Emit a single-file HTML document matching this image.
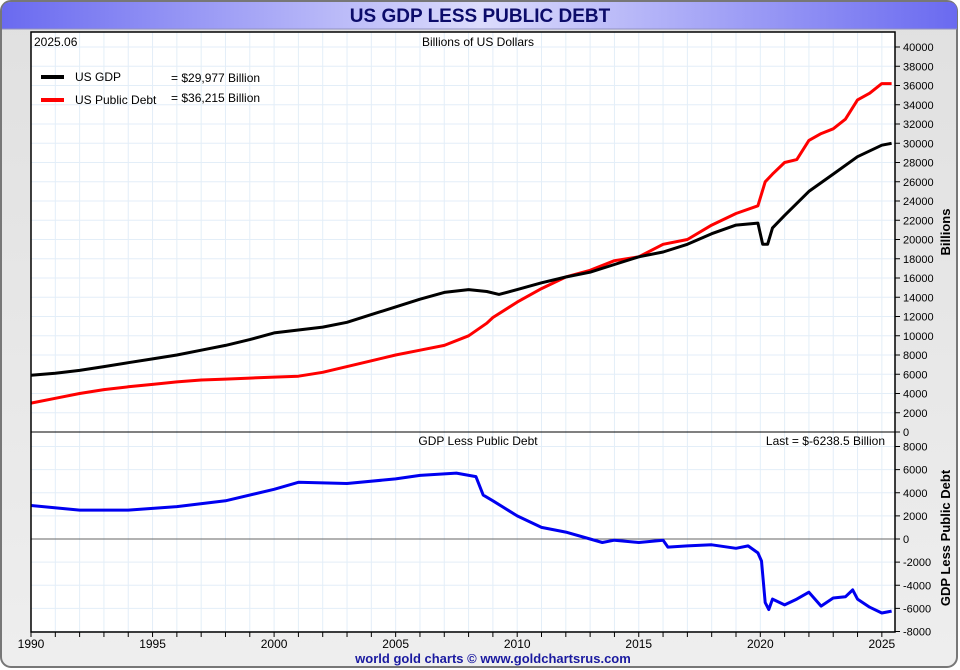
<!DOCTYPE html>
<html><head><meta charset="utf-8">
<style>
html,body{margin:0;padding:0;width:960px;height:670px;overflow:hidden;background:#fff;}
text{font-family:"Liberation Sans",sans-serif;}
</style></head>
<body>
<svg id="chart" width="960" height="670" xmlns="http://www.w3.org/2000/svg">
<defs>
<linearGradient id="hdr" x1="0" x2="1" y1="0" y2="0">
<stop offset="0" stop-color="#6a6af0"/><stop offset="0.5" stop-color="#dcdcfc"/><stop offset="1" stop-color="#6a6af0"/>
</linearGradient>
<linearGradient id="bg" x1="0" x2="0" y1="0" y2="1">
<stop offset="0" stop-color="#e0e0e0"/><stop offset="1" stop-color="#eeeeee"/>
</linearGradient>
</defs>
<rect x="1" y="1" width="956" height="666" rx="10" fill="url(#bg)" stroke="#777" stroke-width="2"/>
<path d="M2,29 L2,11 Q2,2 11,2 L948,2 Q957,2 957,11 L957,29 Z" fill="url(#hdr)"/>
<line x1="2" y1="29" x2="957" y2="29" stroke="#9090c0"/>
<text x="480" y="22" text-anchor="middle" font-size="19" font-weight="bold" fill="#0c0c6a">US GDP LESS PUBLIC DEBT</text>
<rect x="31" y="32" width="864" height="600" fill="#fff"/>
<g id="grid"></g>
<g id="series"></g>
<line x1="31" y1="432" x2="895" y2="432" stroke="#000" stroke-width="1"/>
<rect x="31" y="32" width="864" height="600" fill="none" stroke="#000" stroke-width="1.5"/>
<g id="axes"></g>
<text x="34" y="46" font-size="12">2025.06</text>
<text x="478" y="46" text-anchor="middle" font-size="12">Billions of US Dollars</text>
<line x1="41" y1="77" x2="64" y2="77" stroke="#000" stroke-width="4"/>
<text x="75" y="81" font-size="12">US GDP</text>
<text x="171" y="82" font-size="12">= $29,977 Billion</text>
<line x1="41" y1="100" x2="64" y2="100" stroke="#f00" stroke-width="4"/>
<text x="75" y="104" font-size="12">US Public Debt</text>
<text x="171" y="102" font-size="12">= $36,215 Billion</text>
<text x="478" y="445" text-anchor="middle" font-size="12">GDP Less Public Debt</text>
<text x="885" y="445" text-anchor="end" font-size="12">Last = $-6238.5 Billion</text>
<text transform="translate(950,232) rotate(-90)" text-anchor="middle" font-size="13" font-weight="bold">Billions</text>
<text transform="translate(950,538) rotate(-90)" text-anchor="middle" font-size="13" font-weight="bold">GDP Less Public Debt</text>
<text x="493" y="663" text-anchor="middle" font-size="13" font-weight="bold" fill="#1a1aa0">world gold charts © www.goldchartsrus.com</text>
</svg>
<script>
const gdpYears=[1990,1991,1992,1993,1994,1995,1996,1997,1998,1999,2000,2001,2002,2003,2004,2005,2006,2007,2008,2008.75,2009.25,2010,2011,2012,2013,2014,2015,2016,2017,2018,2019,2019.9,2020.1,2020.3,2020.5,2021,2022,2023,2024,2025,2025.4];
const gdpValues=[5900,6100,6400,6800,7200,7600,8000,8500,9000,9600,10300,10600,10900,11400,12200,13000,13800,14500,14800,14600,14300,14800,15500,16100,16600,17400,18200,18700,19500,20600,21500,21700,19500,19500,21200,22500,25000,26800,28600,29800,30000];
const debtYears=[1990,1991,1992,1993,1994,1995,1996,1997,1998,1999,2000,2001,2002,2003,2004,2005,2006,2007,2008,2008.75,2009,2010,2011,2012,2013,2014,2015,2016,2017,2018,2019,2019.9,2020.2,2020.5,2021,2021.5,2022,2022.5,2023,2023.5,2024,2024.5,2025,2025.4];
const debtValues=[3000,3500,4000,4400,4700,4950,5200,5400,5500,5600,5700,5800,6200,6800,7400,8000,8500,9000,10000,11300,11900,13500,14900,16100,16800,17800,18200,19500,20000,21500,22700,23500,26000,26800,28000,28300,30300,31000,31500,32500,34500,35200,36200,36200];
const diffYears=[1990,1992,1994,1996,1998,2000,2001,2003,2005,2006,2007.5,2008.3,2008.6,2009,2010,2011,2012,2013,2013.5,2014,2015,2016,2016.2,2017,2018,2019,2019.5,2019.9,2020.05,2020.2,2020.35,2020.5,2021,2021.5,2022,2022.5,2023,2023.5,2023.8,2024,2024.5,2025,2025.4];
const diffValues=[2900,2500,2500,2800,3300,4300,4900,4800,5200,5500,5700,5400,3800,3300,2000,1000,600,0,-300,-100,-300,-100,-700,-600,-500,-800,-600,-1200,-1900,-5500,-6100,-5200,-5700,-5200,-4600,-5800,-5100,-5000,-4400,-5200,-5900,-6400,-6240];
const topTicks=[0,2000,4000,6000,8000,10000,12000,14000,16000,18000,20000,22000,24000,26000,28000,30000,32000,34000,36000,38000,40000];
const botTicks=[-8000,-6000,-4000,-2000,0,2000,4000,6000,8000];
const xLabels=[1990,1995,2000,2005,2010,2015,2020,2025];

const NS="http://www.w3.org/2000/svg";
const x=y=>31+(y-1990)*24.31;
const yTop=v=>432-v*385/40000;
const yBot=v=>539-v*92.5/8000;
function mk(tag,attrs,parent){const e=document.createElementNS(NS,tag);for(const k in attrs)e.setAttribute(k,attrs[k]);parent.appendChild(e);return e;}
const grid=document.getElementById('grid'),series=document.getElementById('series'),axes=document.getElementById('axes');
for(let yr=1990;yr<=2025;yr++){
  const l=mk('line',{x1:x(yr),x2:x(yr),y1:32,y2:632,stroke:'#e3eef8','stroke-width':1},grid);
  
  
  const t=mk('line',{x1:x(yr),x2:x(yr),y1:632,y2:637,stroke:'#000'},axes);
  
  
}
topTicks.forEach(v=>{
  const l=mk('line',{x1:31,x2:895,y1:yTop(v),y2:yTop(v),stroke:'#e3eef8'},grid);
  
  
  mk('line',{x1:895,x2:900,y1:yTop(v),y2:yTop(v),stroke:'#000'},axes);
  const t=mk('text',{x:903,y:yTop(v)+4,'font-size':11},axes);t.textContent=v;
  
  
});
botTicks.forEach(v=>{
  const l=mk('line',{x1:31,x2:895,y1:yBot(v),y2:yBot(v),stroke:'#e3eef8'},grid);
  
  
  mk('line',{x1:895,x2:900,y1:yBot(v),y2:yBot(v),stroke:'#000'},axes);
  const t=mk('text',{x:903,y:yBot(v)+4,'font-size':11},axes);t.textContent=v;
  
  
});
xLabels.forEach(v=>{
  const t=mk('text',{x:x(v),y:648,'font-size':12,'text-anchor':'middle'},axes);t.textContent=v;
  
  
});
const z=mk('line',{x1:31,x2:895,y1:yBot(0),y2:yBot(0),stroke:'#666','stroke-width':1},grid);


function line(xs,vs,fy,color,name){
  const d=xs.map((t,i)=>(i?'L':'M')+x(t).toFixed(1)+','+fy(vs[i]).toFixed(1)).join(' ');
  const p=mk('path',{d:d,fill:'none',stroke:color,'stroke-width':3,'stroke-linejoin':'round'},series);
  
  
}
line(debtYears,debtValues,yTop,'#f00','debt-line');
line(gdpYears,gdpValues,yTop,'#000','gdp-line');
line(diffYears,diffValues,yBot,'#0000f0','gdp-less-debt-line');
</script>
</body></html>
